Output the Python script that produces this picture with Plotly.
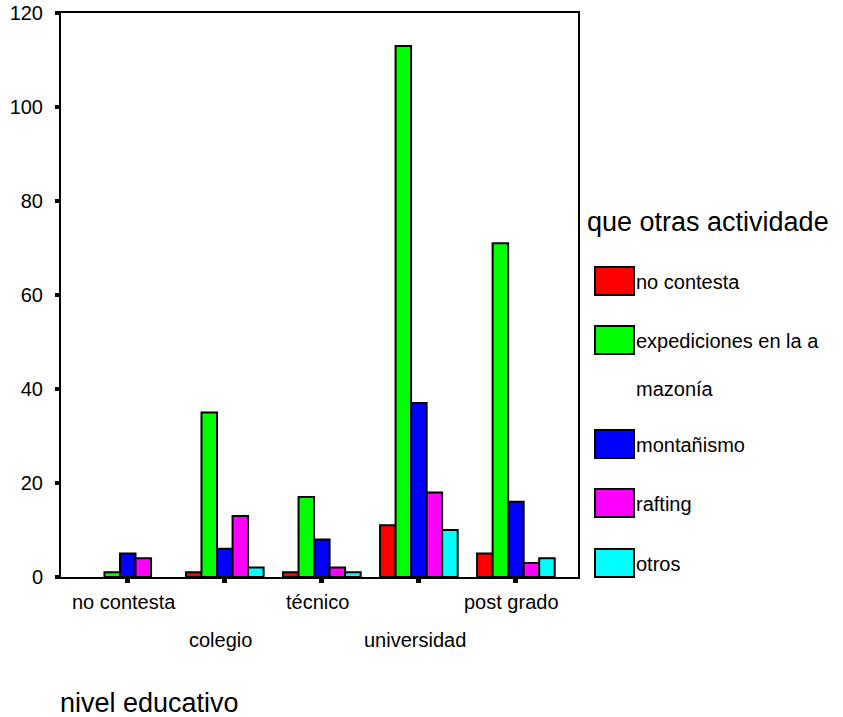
import plotly.graph_objects as go

# Education levels (x categories)
niveles = ["no contesta", "colegio", "técnico", "universidad", "post grado"]

# Other activities (series) and their colours
actividades = ["no contesta", "expediciones en la a<br>mazonía", "montañismo", "rafting", "otros"]
colores = ["#ff0000", "#00ff00", "#0000ff", "#ff00ff", "#00ffff"]

# Counts per activity, one value per education level
no_contesta = [None, 1, 1, 11, 5]
expediciones = [1, 35, 17, 113, 71]
montanismo = [5, 6, 8, 37, 16]
rafting = [4, 13, 2, 18, 3]
otros = [None, 2, 1, 10, 4]
series = [no_contesta, expediciones, montanismo, rafting, otros]

y_ticks = [0, 20, 40, 60, 80, 100, 120]

FONT = "Liberation Sans, Arial, sans-serif"
SMALL = 20
BIG = 27

# Plot area in pixels
W, H = 843, 717
L, R, T, B = 61, 578, 13, 577


def px_x(px):
    return (px - L) / (R - L)


def px_y(py):
    return (B - py) / (B - T)


fig = go.Figure()
xs = list(range(len(niveles)))
for name, vals, col in zip(actividades, series, colores):
    fig.add_trace(go.Bar(
        x=xs, y=vals, name=name,
        marker=dict(color=col, line=dict(color="black", width=2)),
        showlegend=False,
    ))

annotations = []
# staggered category labels
for i, lab in enumerate(niveles):
    annotations.append(dict(
        x=i, y=0, xref="x", yref="paper", text=lab, showarrow=False,
        xanchor="center", yanchor="middle", xshift=-4,
        yshift=-25 if i % 2 == 0 else -63,
        font=dict(family=FONT, size=SMALL, color="black"),
    ))

# axis title
annotations.append(dict(
    x=0, y=0, xref="paper", yref="paper", text="nivel educativo",
    showarrow=False, xanchor="left", yanchor="middle", xshift=-3, yshift=-126,
    font=dict(family=FONT, size=BIG, color="black"),
))

# legend title
annotations.append(dict(
    x=px_x(585), y=px_y(222), xref="paper", yref="paper",
    text="que otras actividade", showarrow=False,
    xanchor="left", yanchor="middle",
    font=dict(family=FONT, size=BIG, color="black"),
))

# legend entries
shapes = []
box_tops = [267, 326, 430, 489, 549]
for name, col, top in zip(actividades, colores, box_tops):
    shapes.append(dict(
        type="rect", xref="paper", yref="paper",
        x0=px_x(595), x1=px_x(634), y0=px_y(top), y1=px_y(top + 28),
        fillcolor=col, line=dict(color="black", width=2),
    ))
    lines = name.split("<br>")
    for k, line in enumerate(lines):
        annotations.append(dict(
            x=px_x(634), y=px_y(top + 15 + 48 * k), xref="paper", yref="paper",
            text=line, showarrow=False, xanchor="left", yanchor="middle",
            font=dict(family=FONT, size=SMALL, color="black"),
        ))

fig.update_layout(
    width=W, height=H,
    margin=dict(l=L, r=W - R, t=T, b=H - B, pad=0, autoexpand=False),
    paper_bgcolor="white", plot_bgcolor="white",
    barmode="group", bargap=0.2, bargroupgap=0,
    xaxis=dict(
        range=[-0.688, 4.64], tickvals=xs, ticktext=["" for _ in xs],
        ticks="outside", ticklen=4, tickwidth=5, tickcolor="black",
        showline=True, linecolor="black", linewidth=2, mirror=True,
        showgrid=False, zeroline=False, automargin=False,
    ),
    yaxis=dict(
        range=[0, 120], tickvals=y_ticks,
        ticks="outside", ticklen=4, tickwidth=4, tickcolor="black",
        showline=True, linecolor="black", linewidth=2, mirror=True,
        showgrid=False, zeroline=False, automargin=False,
        tickfont=dict(family=FONT, size=SMALL, color="black"),
        ticklabelstandoff=8,
    ),
    annotations=annotations,
    shapes=shapes,
    showlegend=False,
)

fig.write_html("out.html")
